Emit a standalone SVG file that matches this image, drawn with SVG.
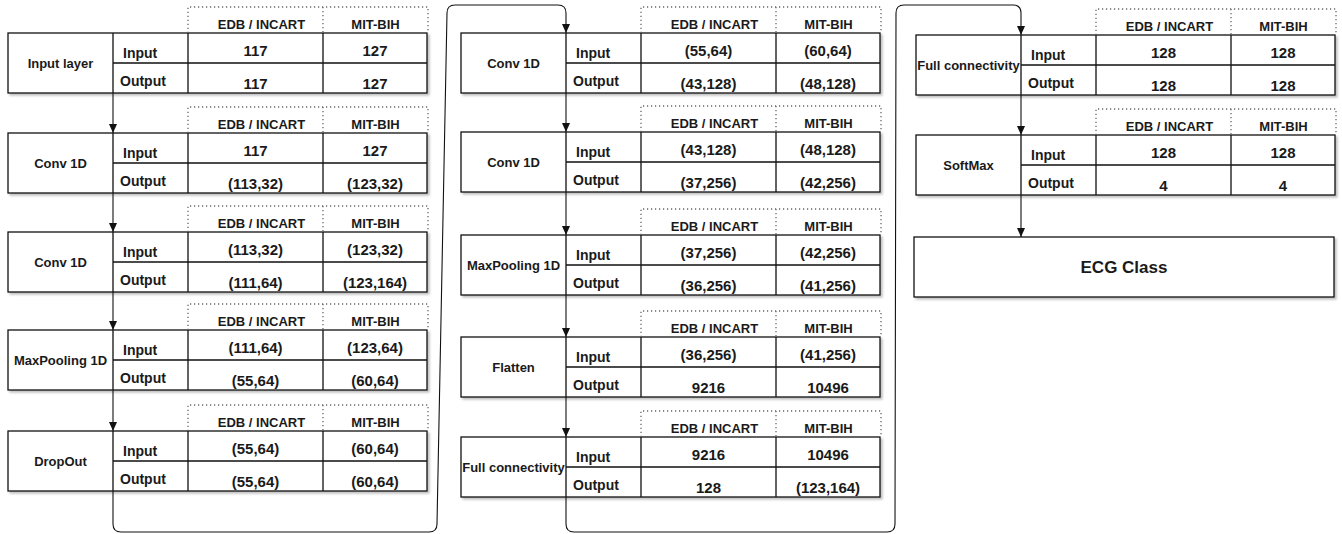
<svg xmlns="http://www.w3.org/2000/svg" width="1342" height="534" viewBox="0 0 1342 534">
<style>
text{font-family:"Liberation Sans",Arial,sans-serif;font-weight:bold;fill:#1a1a1a}
.nm{font-size:13px;text-anchor:middle}
.lb{font-size:14px}
.v{font-size:15px;text-anchor:middle}
.h{font-size:13px;text-anchor:middle}
.ecg{font-size:17px;text-anchor:middle}
.box{fill:#fff;stroke:#111;stroke-width:1.3}
.ln{stroke:#111;stroke-width:1.3;fill:none}
.dot{stroke:#666;stroke-width:1.3;stroke-dasharray:1.2 2.8;fill:none}
.con{stroke:#111;stroke-width:1.1;fill:none}
</style>
<defs>
<filter id="sh" x="-5%" y="-20%" width="110%" height="140%">
<feDropShadow dx="2" dy="2" stdDeviation="1" flood-color="#000" flood-opacity="0.25"/>
</filter>
<marker id="ad" markerWidth="9" markerHeight="9" refX="9" refY="4.5" orient="auto" markerUnits="userSpaceOnUse" viewBox="0 0 9 9">
<path d="M0,0.5 L9,4.5 L0,8.5 Z" fill="#111"/>
</marker>
<g id="tbl">
<g filter="url(#sh)">
<rect class="box" x="0" y="0" width="419" height="60"/>
<path class="ln" d="M105,0 V60 M180,0 V60 M315,0 V60 M105,30 H419"/>
</g>
<path class="dot" d="M180,0 V-26 H420 V0 M315,-26 V0"/>
<text class="h" x="253.5" y="-4">EDB / INCART</text>
<text class="h" x="367.5" y="-4">MIT-BIH</text>
<text class="lb" x="115" y="25">Input</text>
<text class="lb" x="112" y="53">Output</text>
</g>
</defs>

<g id="connectors">
<path class="con" marker-end="url(#ad)" d="M113,93 V133"/>
<path class="con" marker-end="url(#ad)" d="M113,193 V232"/>
<path class="con" marker-end="url(#ad)" d="M113,292 V330"/>
<path class="con" marker-end="url(#ad)" d="M113,390 V431"/>
<path class="con" marker-end="url(#ad)" d="M113,491 V524 Q113,532 121,532 H429 Q437,532 437,524 L447,13 Q447,5 455,5 H558 Q566,5 566,13 V33"/>
<path class="con" marker-end="url(#ad)" d="M566,93 V132"/>
<path class="con" marker-end="url(#ad)" d="M566,192 V235"/>
<path class="con" marker-end="url(#ad)" d="M566,295 V337"/>
<path class="con" marker-end="url(#ad)" d="M566,397 V437"/>
<path class="con" marker-end="url(#ad)" d="M566,497 V524 Q566,532 574,532 H887 Q895,532 895,524 L896,13 Q896,5 904,5 H1013 Q1021,5 1021,13 V35"/>
<path class="con" marker-end="url(#ad)" d="M1021,95 V135"/>
<path class="con" marker-end="url(#ad)" d="M1021,195 V237"/>
</g>

<g id="input-layer" transform="translate(8,33)">
<use href="#tbl"/>
<text class="nm" x="52.5" y="35">Input layer</text>
<text class="v" x="247.5" y="23">117</text><text class="v" x="367" y="23">127</text>
<text class="v" x="247.5" y="56">117</text><text class="v" x="367" y="56">127</text>
</g>
<g id="conv1d-1" transform="translate(8,133)">
<use href="#tbl"/>
<text class="nm" x="52.5" y="35">Conv 1D</text>
<text class="v" x="247.5" y="23">117</text><text class="v" x="367" y="23">127</text>
<text class="v" x="247.5" y="56">(113,32)</text><text class="v" x="367" y="56">(123,32)</text>
</g>
<g id="conv1d-2" transform="translate(8,232)">
<use href="#tbl"/>
<text class="nm" x="52.5" y="35">Conv 1D</text>
<text class="v" x="247.5" y="23">(113,32)</text><text class="v" x="367" y="23">(123,32)</text>
<text class="v" x="247.5" y="56">(111,64)</text><text class="v" x="367" y="56">(123,164)</text>
</g>
<g id="maxpool-1" transform="translate(8,330)">
<use href="#tbl"/>
<text class="nm" x="52.5" y="35">MaxPooling 1D</text>
<text class="v" x="247.5" y="23">(111,64)</text><text class="v" x="367" y="23">(123,64)</text>
<text class="v" x="247.5" y="56">(55,64)</text><text class="v" x="367" y="56">(60,64)</text>
</g>
<g id="dropout" transform="translate(8,431)">
<use href="#tbl"/>
<text class="nm" x="52.5" y="35">DropOut</text>
<text class="v" x="247.5" y="23">(55,64)</text><text class="v" x="367" y="23">(60,64)</text>
<text class="v" x="247.5" y="56">(55,64)</text><text class="v" x="367" y="56">(60,64)</text>
</g>

<g id="conv1d-3" transform="translate(461,33)">
<use href="#tbl"/>
<text class="nm" x="52.5" y="35">Conv 1D</text>
<text class="v" x="247.5" y="23">(55,64)</text><text class="v" x="367" y="23">(60,64)</text>
<text class="v" x="247.5" y="56">(43,128)</text><text class="v" x="367" y="56">(48,128)</text>
</g>
<g id="conv1d-4" transform="translate(461,132)">
<use href="#tbl"/>
<text class="nm" x="52.5" y="35">Conv 1D</text>
<text class="v" x="247.5" y="23">(43,128)</text><text class="v" x="367" y="23">(48,128)</text>
<text class="v" x="247.5" y="56">(37,256)</text><text class="v" x="367" y="56">(42,256)</text>
</g>
<g id="maxpool-2" transform="translate(461,235)">
<use href="#tbl"/>
<text class="nm" x="52.5" y="35">MaxPooling 1D</text>
<text class="v" x="247.5" y="23">(37,256)</text><text class="v" x="367" y="23">(42,256)</text>
<text class="v" x="247.5" y="56">(36,256)</text><text class="v" x="367" y="56">(41,256)</text>
</g>
<g id="flatten" transform="translate(461,337)">
<use href="#tbl"/>
<text class="nm" x="52.5" y="35">Flatten</text>
<text class="v" x="247.5" y="23">(36,256)</text><text class="v" x="367" y="23">(41,256)</text>
<text class="v" x="247.5" y="56">9216</text><text class="v" x="367" y="56">10496</text>
</g>
<g id="fc-1" transform="translate(461,437)">
<use href="#tbl"/>
<text class="nm" x="52.5" y="35">Full connectivity</text>
<text class="v" x="247.5" y="23">9216</text><text class="v" x="367" y="23">10496</text>
<text class="v" x="247.5" y="56">128</text><text class="v" x="367" y="56">(123,164)</text>
</g>

<g id="fc-2" transform="translate(916,35)">
<use href="#tbl"/>
<text class="nm" x="52.5" y="35">Full connectivity</text>
<text class="v" x="247.5" y="23">128</text><text class="v" x="367" y="23">128</text>
<text class="v" x="247.5" y="56">128</text><text class="v" x="367" y="56">128</text>
</g>
<g id="softmax" transform="translate(916,135)">
<use href="#tbl"/>
<text class="nm" x="52.5" y="35">SoftMax</text>
<text class="v" x="247.5" y="23">128</text><text class="v" x="367" y="23">128</text>
<text class="v" x="247.5" y="56">4</text><text class="v" x="367" y="56">4</text>
</g>
<g id="ecg-class">
<rect class="box" x="914" y="237" width="420" height="60" filter="url(#sh)"/>
<text class="ecg" x="1124" y="273">ECG Class</text>
</g>
</svg>
